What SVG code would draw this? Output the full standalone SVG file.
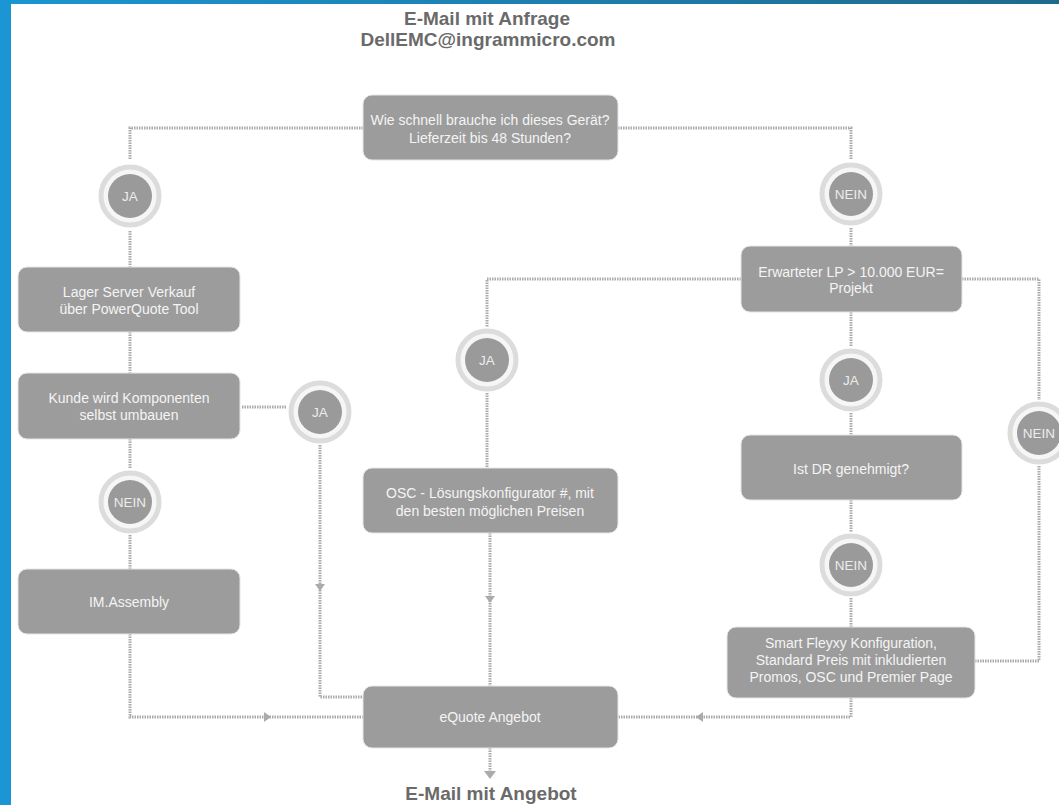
<svg xmlns="http://www.w3.org/2000/svg" width="1059" height="805" viewBox="0 0 1059 805">
<defs>
<linearGradient id="bg" x1="0" y1="0" x2="1" y2="0">
<stop offset="0" stop-color="#1b95d3"/>
<stop offset="1" stop-color="#1f6a8c"/>
</linearGradient>
<style>
.box{fill:#9c9c9c;stroke:#e6e6e6;stroke-width:1}
.bt{font-family:"Liberation Sans",Arial,sans-serif;font-size:14px;fill:#f4f4f4;text-anchor:middle}
.ring{fill:#f6f6f6;stroke:#dcdcdc;stroke-width:5}
.core{fill:#9a9a9a}
.ct{font-family:"Liberation Sans",Arial,sans-serif;font-size:13.5px;fill:#ececec;text-anchor:middle}
.title{font-family:"Liberation Sans",Arial,sans-serif;font-size:19px;font-weight:bold;fill:#6a6a6a;text-anchor:middle}
.c{fill:none;stroke:#ababab;stroke-width:3;stroke-dasharray:1.5 1}
.ah{fill:#ababab}
</style>
</defs>
<rect x="0" y="0" width="1059" height="805" fill="url(#bg)"/>
<rect x="11" y="4" width="1048" height="801" fill="#ffffff"/>

<g id="connectors">
<path class="c" d="M363,128 H130 V160"/>
<path class="c" d="M130,231 V267"/>
<path class="c" d="M618,128 H851 V160"/>
<path class="c" d="M851,228 V246"/>
<path class="c" d="M741,279 H487 V327"/>
<path class="c" d="M487,393 V468"/>
<path class="c" d="M490,533 V686"/>
<polygon class="ah" points="485,596 495,596 490,603"/>
<path class="c" d="M962,279 H1039 V400"/>
<path class="c" d="M1039,466 V661 H975"/>
<path class="c" d="M851,312 V346"/>
<path class="c" d="M851,413 V435"/>
<path class="c" d="M851,500 V532"/>
<path class="c" d="M851,598 V627"/>
<path class="c" d="M851,698 V717 H618"/>
<polygon class="ah" points="703,712 703,722 696,717"/>
<path class="c" d="M242,407 H287"/>
<path class="c" d="M320,445 V697 H363"/>
<polygon class="ah" points="315,584 325,584 320,591"/>
<path class="c" d="M130,332 V373"/>
<path class="c" d="M130,439 V469"/>
<path class="c" d="M130,535 V569"/>
<path class="c" d="M130,634 V717 H363"/>
<polygon class="ah" points="264,712 264,722 271,717"/>
<path class="c" d="M490,748 V773"/>
<polygon class="ah" points="484,771 496,771 490,779"/>
</g>

<g id="title-top">
<text class="title" x="487" y="25">E-Mail mit Anfrage</text>
<text class="title" x="488" y="46">DellEMC@ingrammicro.com</text>
</g>

<g id="n-speed">
<rect class="box" x="363" y="95" width="255" height="65" rx="9"/>
<text class="bt" x="490" y="125">Wie schnell brauche ich dieses Gerät?</text>
<text class="bt" x="490" y="143">Lieferzeit bis 48 Stunden?</text>
</g>

<g id="c-ja1">
<circle class="ring" cx="130" cy="196" r="29"/>
<circle class="core" cx="130" cy="196" r="22"/>
<text class="ct" x="130" y="201">JA</text>
</g>

<g id="c-nein1">
<circle class="ring" cx="851" cy="194" r="29"/>
<circle class="core" cx="851" cy="194" r="22"/>
<text class="ct" x="851" y="199">NEIN</text>
</g>

<g id="n-lager">
<rect class="box" x="18" y="267" width="222" height="65" rx="9"/>
<text class="bt" x="129" y="297">Lager Server Verkauf</text>
<text class="bt" x="129" y="314">über PowerQuote Tool</text>
</g>

<g id="n-lp">
<rect class="box" x="741" y="246" width="221" height="66" rx="9"/>
<text class="bt" x="851" y="277">Erwarteter LP &gt; 10.000 EUR=</text>
<text class="bt" x="851" y="293">Projekt</text>
</g>

<g id="c-ja2">
<circle class="ring" cx="487" cy="360" r="29"/>
<circle class="core" cx="487" cy="360" r="22"/>
<text class="ct" x="487" y="365">JA</text>
</g>

<g id="c-ja3">
<circle class="ring" cx="851" cy="380" r="29"/>
<circle class="core" cx="851" cy="380" r="22"/>
<text class="ct" x="851" y="385">JA</text>
</g>

<g id="n-kunde">
<rect class="box" x="18" y="373" width="222" height="66" rx="9"/>
<text class="bt" x="129" y="403">Kunde wird Komponenten</text>
<text class="bt" x="129" y="420">selbst umbauen</text>
</g>

<g id="c-ja4">
<circle class="ring" cx="320" cy="412" r="29"/>
<circle class="core" cx="320" cy="412" r="22"/>
<text class="ct" x="320" y="417">JA</text>
</g>

<g id="c-nein2">
<circle class="ring" cx="1039" cy="433" r="29"/>
<circle class="core" cx="1039" cy="433" r="22"/>
<text class="ct" x="1039" y="438">NEIN</text>
</g>

<g id="n-dr">
<rect class="box" x="741" y="435" width="221" height="65" rx="9"/>
<text class="bt" x="851" y="474">Ist DR genehmigt?</text>
</g>

<g id="n-osc">
<rect class="box" x="363" y="468" width="255" height="65" rx="9"/>
<text class="bt" x="490" y="498">OSC - Lösungskonfigurator #, mit</text>
<text class="bt" x="490" y="516">den besten möglichen Preisen</text>
</g>

<g id="c-nein3">
<circle class="ring" cx="130" cy="502" r="29"/>
<circle class="core" cx="130" cy="502" r="22"/>
<text class="ct" x="130" y="507">NEIN</text>
</g>

<g id="c-nein4">
<circle class="ring" cx="851" cy="565" r="29"/>
<circle class="core" cx="851" cy="565" r="22"/>
<text class="ct" x="851" y="570">NEIN</text>
</g>

<g id="n-assembly">
<rect class="box" x="18" y="569" width="222" height="65" rx="9"/>
<text class="bt" x="129" y="607">IM.Assembly</text>
</g>

<g id="n-smart">
<rect class="box" x="727" y="627" width="248" height="71" rx="9"/>
<text class="bt" x="851" y="648">Smart Fleyxy Konfiguration,</text>
<text class="bt" x="851" y="665">Standard Preis mit inkludierten</text>
<text class="bt" x="851" y="682">Promos, OSC und Premier Page</text>
</g>

<g id="n-equote">
<rect class="box" x="363" y="686" width="255" height="62" rx="9"/>
<text class="bt" x="490" y="722">eQuote Angebot</text>
</g>

<g id="title-bottom">
<text class="title" x="491" y="800">E-Mail mit Angebot</text>
</g>
</svg>
